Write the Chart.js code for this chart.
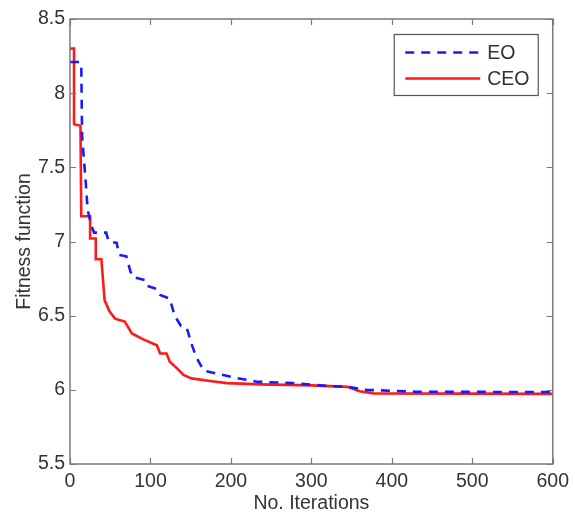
<!DOCTYPE html>
<html>
<head>
<meta charset="utf-8">
<script src="https://cdn.jsdelivr.net/npm/chart.js@4"></script>
<style>
  html, body { margin: 0; padding: 0; background: #fff; }
  #wrap { width: 575px; height: 515px; }
</style>
</head>
<body>
<div id="wrap"><canvas id="fitChart" width="575" height="515"></canvas></div>
<script>
// ================== DATA ==================
const seriesLabels = ["EO", "CEO"];

const eoIter = [0, 12, 14, 15, 19, 22, 27, 30, 45, 48, 58, 61, 70, 75, 78, 93, 96, 108, 112, 124, 130, 138, 145, 151, 157, 166, 182, 207, 232, 277, 323, 345, 368, 430, 600];
const eoFit = [8.21, 8.21, 8.2, 7.71, 7.44, 7.21, 7.10, 7.06, 7.06, 7.0, 6.99, 6.91, 6.90, 6.80, 6.76, 6.74, 6.70, 6.68, 6.64, 6.615, 6.50, 6.43, 6.42, 6.31, 6.22, 6.13, 6.11, 6.08, 6.055, 6.045, 6.025, 6.02, 6.0, 5.987, 5.985];

const ceoIter = [0, 5, 5, 13, 14, 25, 25, 32, 32, 39, 43, 49, 56, 68, 77, 91, 108, 112, 120, 124, 133, 141, 151, 174, 195, 236, 300, 345, 360, 377, 600];
const ceoFit = [8.30, 8.30, 7.79, 7.78, 7.17, 7.17, 7.02, 7.02, 6.88, 6.88, 6.605, 6.53, 6.48, 6.46, 6.38, 6.34, 6.30, 6.245, 6.245, 6.19, 6.145, 6.10, 6.077, 6.06, 6.045, 6.037, 6.03, 6.02, 5.99, 5.976, 5.973];

const xTicks = [0, 100, 200, 300, 400, 500, 600];
const yTicks = [5.5, 6, 6.5, 7, 7.5, 8, 8.5];
const xTitle = "No. Iterations";
const yTitle = "Fitness function";

// ================== STYLE ==================
const FONT = "'Liberation Sans', Arial, Helvetica, sans-serif";
const FSIZE = 19.5;
const TEXT = "#333333";
const AXIS = "#7a7a7a";

function toPoints(xs, ys) {
  return xs.map((x, i) => ({ x, y: ys[i] }));
}

// box axes with inward ticks (matlab look)
const boxAxes = {
  id: "boxAxes",
  afterDraw(chart) {
    const { ctx, chartArea: a, scales } = chart;
    ctx.save();
    ctx.strokeStyle = AXIS;
    ctx.lineWidth = 1.5;
    ctx.strokeRect(a.left, a.top, a.right - a.left, a.bottom - a.top);
    ctx.lineWidth = 1.2;
    ctx.beginPath();
    xTicks.forEach((v) => {
      const px = Math.round(scales.x.getPixelForValue(v)) + 0.5;
      ctx.moveTo(px, a.bottom); ctx.lineTo(px, a.bottom - 6);
      ctx.moveTo(px, a.top); ctx.lineTo(px, a.top + 6);
    });
    yTicks.forEach((v) => {
      const py = Math.round(scales.y.getPixelForValue(v)) + 0.5;
      ctx.moveTo(a.left, py); ctx.lineTo(a.left + 6, py);
      ctx.moveTo(a.right, py); ctx.lineTo(a.right - 6, py);
    });
    ctx.stroke();
    ctx.restore();
  },
};

// legend box in the top right corner
const boxLegend = {
  id: "boxLegend",
  afterDraw(chart) {
    const { ctx, chartArea: a } = chart;
    const bx = a.right - 158.5, by = a.top + 15.5, bw = 144, bh = 61;
    ctx.save();
    ctx.fillStyle = "#fff";
    ctx.fillRect(bx, by, bw, bh);
    ctx.strokeStyle = "#555";
    ctx.lineWidth = 1.2;
    ctx.strokeRect(bx, by, bw, bh);
    chart.data.datasets.forEach((ds, i) => {
      const ly = by + 18 + i * 26;
      ctx.beginPath();
      ctx.strokeStyle = ds.borderColor;
      ctx.lineWidth = ds.borderWidth;
      ctx.setLineDash(ds.borderDash || []);
      ctx.moveTo(bx + 11, ly);
      ctx.lineTo(bx + 86, ly);
      ctx.stroke();
      ctx.setLineDash([]);
      ctx.fillStyle = TEXT;
      ctx.font = FSIZE + "px " + FONT;
      ctx.textAlign = "left";
      ctx.textBaseline = "middle";
      ctx.fillText(ds.label, bx + 93, ly + 1);
    });
    ctx.restore();
  },
};

// ================== CHART ==================
const ctx = document.getElementById("fitChart").getContext("2d");

new Chart(ctx, {
  type: "line",
  data: {
    datasets: [
      {
        label: seriesLabels[0],
        data: toPoints(eoIter, eoFit),
        borderColor: "#1a1aff",
        borderWidth: 2.6,
        borderDash: [9, 7],
        pointRadius: 0,
        fill: false,
        tension: 0,
      },
      {
        label: seriesLabels[1],
        data: toPoints(ceoIter, ceoFit),
        borderColor: "#ff1a1a",
        borderWidth: 2.6,
        pointRadius: 0,
        fill: false,
        tension: 0,
      },
    ],
  },
  options: {
    responsive: false,
    animation: false,
    layout: { padding: { top: 19, right: 22, left: 0, bottom: 0 } },
    scales: {
      x: {
        type: "linear",
        min: 0,
        max: 600,
        afterFit: (s) => { s.height = 51; },
        afterBuildTicks: (s) => { s.ticks = xTicks.map((v) => ({ value: v })); },
        ticks: {
          color: TEXT,
          font: { family: FONT, size: FSIZE },
          padding: 6,
          maxRotation: 0,
          callback: (v) => String(v),
        },
        grid: { display: false, drawTicks: false },
        border: { display: false },
        title: {
          display: true,
          text: xTitle,
          color: TEXT,
          font: { family: FONT, size: FSIZE },
          padding: { top: 0, bottom: 0 },
        },
      },
      y: {
        type: "linear",
        min: 5.5,
        max: 8.5,
        afterFit: (s) => { s.width = 70; },
        afterBuildTicks: (s) => { s.ticks = yTicks.map((v) => ({ value: v })); },
        ticks: {
          color: TEXT,
          font: { family: FONT, size: FSIZE },
          padding: 5,
          callback: (v) => String(v),
        },
        grid: { display: false, drawTicks: false },
        border: { display: false },
        title: {
          display: true,
          text: yTitle,
          color: TEXT,
          font: { family: FONT, size: FSIZE },
          padding: { top: 13, bottom: 0 },
        },
      },
    },
    plugins: {
      legend: { display: false },
      tooltip: { enabled: false },
    },
  },
  plugins: [boxAxes, boxLegend],
});
</script>
</body>
</html>
